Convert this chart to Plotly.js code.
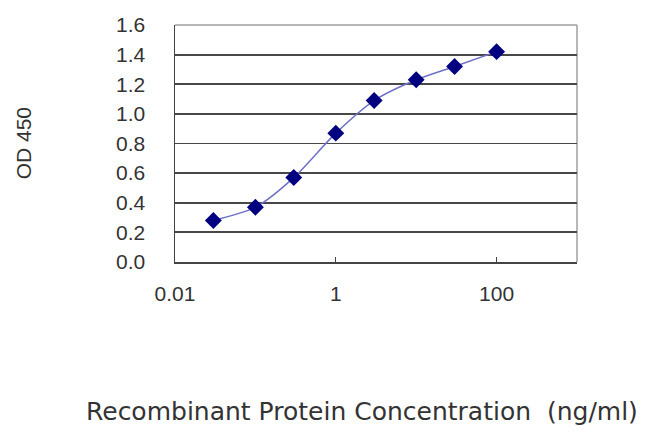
<!DOCTYPE html>
<html>
<head>
<meta charset="utf-8">
<script src="https://cdn.plot.ly/plotly-3.0.1.min.js"></script>
<style>html,body{margin:0;padding:0;background:#fff;}</style>
</head>
<body>
<div id="myDiv" style="width:650px;height:433px;"></div>
<script>
// concentration series (ng/ml) and measured OD 450
var conc = [0.03, 0.1, 0.3, 1, 3, 10, 30, 100];
var od450 = [0.28, 0.37, 0.57, 0.87, 1.09, 1.23, 1.32, 1.42];

var xTickVals = [0.01, 1, 100];
var xTickText = ['0.01', '1', '100'];
var yTickVals = [0, 0.2, 0.4, 0.6, 0.8, 1.0, 1.2, 1.4, 1.6];
var yTickText = ['0.0', '0.2', '0.4', '0.6', '0.8', '1.0', '1.2', '1.4', '1.6'];

var xTitle = 'Recombinant Protein Concentration&nbsp;&nbsp;(ng/ml)';
var yTitle = 'OD 450';

var font = "'Liberation Sans', Arial, sans-serif";

var data = [{
	x: conc,
	y: od450,
	mode: 'lines+markers',
	line: {color: '#7070c8', width: 1.5, shape: 'spline', smoothing: 0.8},
	marker: {symbol: 'diamond', size: 13, color: '#000080'},
	hoverinfo: 'x+y'
}];

var layout = {
	width: 650,
	height: 433,
	margin: {l: 175, r: 73, t: 25, b: 171},
	paper_bgcolor: '#fff',
	plot_bgcolor: '#fff',
	showlegend: false,
	font: {family: font, color: '#333', size: 21},
	xaxis: {
		type: 'log',
		range: [-2, 3],
		tickvals: xTickVals,
		ticktext: xTickText,
		ticks: 'inside',
		ticklen: 5,
		tickcolor: '#444',
		ticklabelstandoff: 12,
		showgrid: false,
		zeroline: false,
		showline: true,
		linecolor: '#444',
		linewidth: 1.5,
		tickfont: {family: font, size: 21, color: '#333'}
	},
	yaxis: {
		range: [0, 1.6],
		tickvals: yTickVals,
		ticktext: yTickText,
		ticks: 'inside',
		ticklen: 5,
		tickcolor: '#444',
		ticklabelstandoff: 24,
		showgrid: true,
		gridcolor: '#484848',
		gridwidth: 1.8,
		zeroline: false,
		showline: true,
		linecolor: '#444',
		linewidth: 1.5,
		tickfont: {family: font, size: 21, color: '#333'}
	},
	annotations: [
		{text: xTitle, xref: 'paper', yref: 'paper', x: 0.465, y: -0.63,
		 xanchor: 'center', yanchor: 'middle', showarrow: false,
		 font: {family: 'DejaVu Sans, sans-serif', size: 25, color: '#333'}},
		{text: yTitle, xref: 'paper', yref: 'paper', x: -0.376, y: 0.5,
		 xanchor: 'center', yanchor: 'middle', showarrow: false, textangle: -90,
		 font: {family: font, size: 21, color: '#333'}}
	],
	shapes: [
		// light frame along the top and right of the plot area
		{type: 'line', xref: 'paper', yref: 'paper', x0: 0, x1: 1, y0: 1, y1: 1,
		 line: {color: '#a0a0a0', width: 1.5}, layer: 'below'},
		{type: 'line', xref: 'paper', yref: 'paper', x0: 1, x1: 1, y0: 0, y1: 1,
		 line: {color: '#a0a0a0', width: 1.5}, layer: 'below'}
	]
};

Plotly.newPlot('myDiv', data, layout, {displayModeBar: false, staticPlot: true});
</script>
</body>
</html>
